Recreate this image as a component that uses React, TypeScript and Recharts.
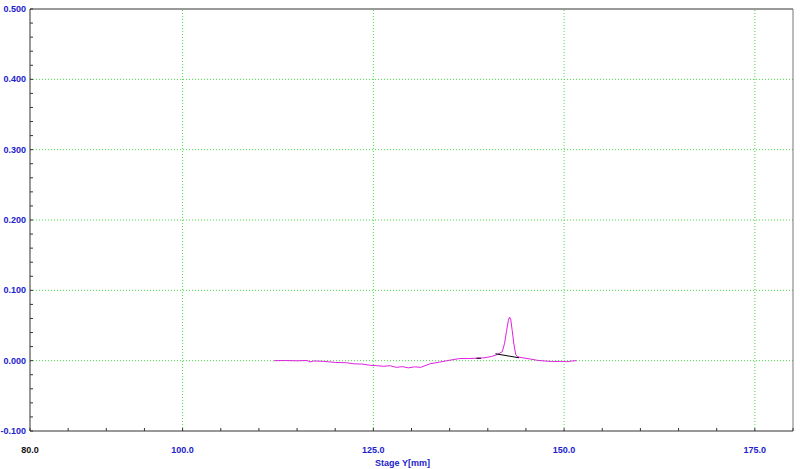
import React from 'react';
import { LineChart, Line, XAxis, YAxis, ReferenceLine } from 'recharts';

// stage position [mm] and signal
const stageY = [
  112.0, 113.5, 115.0, 116.3, 116.7, 117.2, 118.5, 120.0, 121.5, 122.5, 123.5, 124.5,
  125.5, 126.3, 127.2, 128.0, 128.8, 129.6, 130.4, 131.2, 132.4, 133.7, 135.0, 136.3,
  137.5, 138.5, 139.5, 140.5, 141.2, 141.9, 142.2, 142.45, 142.7, 142.85, 143.0, 143.2,
  143.4, 143.65, 143.9, 144.6, 145.5, 146.5, 147.5, 148.5, 149.5, 150.3, 151.0, 151.6,
];
const signal = [
  0.0, 0.0002, -0.0002, 0.0003, -0.0018, -0.0004, -0.001, -0.0025, -0.003, -0.0045, -0.0048, -0.0065,
  -0.0072, -0.008, -0.0072, -0.0095, -0.0085, -0.0102, -0.0088, -0.0095, -0.0045, -0.002, 0.0006, 0.003,
  0.003, 0.0035, 0.004, 0.006, 0.0085, 0.0127, 0.0248, 0.0418, 0.0575, 0.062, 0.059, 0.043,
  0.025, 0.009, 0.0055, 0.004, 0.0025, 0.0005, -0.0005, -0.0012, -0.001, -0.0015, -0.0005, 0.0,
];

// peak baseline (black)
const baseX = [141.0, 144.1];
const baseY = [0.0098, 0.0041];
const markX = [138.5, 139.1];
const markY = [0.0034, 0.0034];

const xTicks = [80, 85, 90, 95, 100, 105, 110, 115, 120, 125, 130, 135, 140, 145, 150, 155, 160, 165, 170, 175, 180];
const xLabels = [80, 100, 125, 150, 175];
const xGrid = [100, 125, 150, 175];
const yTicks = [
  -0.1, -0.08, -0.06, -0.04, -0.02, 0.0, 0.02, 0.04, 0.06, 0.08, 0.1, 0.12, 0.14, 0.16, 0.18, 0.2,
  0.22, 0.24, 0.26, 0.28, 0.3, 0.32, 0.34, 0.36, 0.38, 0.4, 0.42, 0.44, 0.46, 0.48, 0.5,
];
const yLabels = [-0.1, 0.0, 0.1, 0.2, 0.3, 0.4, 0.5];
const yGrid = [0.0, 0.1, 0.2, 0.3, 0.4];

const trace = stageY.map((x, i) => ({ x, y: signal[i] }));
const baseline = baseX.map((x, i) => ({ x, y: baseY[i] }));
const mark = markX.map((x, i) => ({ x, y: markY[i] }));

const BLUE = '#2222cc';
const FONT = '"Liberation Sans", Arial, sans-serif';
const near = (a: number, b: number) => Math.abs(a - b) < 1e-6;

const LeftTick = (props: any) => {
  const { x, y, payload } = props;
  const v = payload.value;
  const major = yLabels.some((l) => near(l, v));
  return (
    <g>
      <line x1={x} x2={x + 3} y1={y} y2={y} stroke="#333" />
      {major && (
        <text x={x - 4} y={y} dy={3} textAnchor="end" fill={BLUE} fontSize={9} fontWeight="bold" fontFamily={FONT}>
          {v.toFixed(3)}
        </text>
      )}
    </g>
  );
};

const RightTick = (props: any) => {
  const { x, y } = props;
  return <line x1={x} x2={x + 3} y1={y} y2={y} stroke="#777" />;
};

const BottomTick = (props: any) => {
  const { x, y, payload } = props;
  const v = payload.value;
  const major = xLabels.some((l) => near(l, v));
  return (
    <g>
      <line x1={x} x2={x} y1={y} y2={y - 3} stroke="#333" />
      {major && (
        <text x={x} y={y + 22} textAnchor="middle" fill={v === 80 ? '#111' : BLUE} fontSize={9} fontWeight="bold" fontFamily={FONT}>
          {v.toFixed(1)}
        </text>
      )}
    </g>
  );
};

const TopTick = (props: any) => {
  const { x, y } = props;
  return <line x1={x} x2={x} y1={y} y2={y + 3} stroke="#777" />;
};

export default function App() {
  return (
    <div style={{ position: 'absolute', left: 0, top: 0, background: '#fff' }}>
      <LineChart width={800} height={469} margin={{ top: 0, right: 0, bottom: 0, left: 0 }}>
        <XAxis
          dataKey="x"
          type="number"
          domain={[80, 180]}
          ticks={xTicks}
          interval={0}
          allowDataOverflow
          height={38}
          tickSize={0}
          tickMargin={0}
          tick={<BottomTick />}
          axisLine={{ stroke: '#333' }}
          label={{ value: 'Stage Y[mm]', position: 'insideBottom', offset: 3, dx: -9, fill: BLUE, fontSize: 9, fontWeight: 'bold', fontFamily: FONT }}
        />
        <XAxis
          xAxisId="top"
          orientation="top"
          dataKey="x"
          type="number"
          domain={[80, 180]}
          ticks={xTicks}
          interval={0}
          height={9}
          tickSize={0}
          tickMargin={0}
          tick={<TopTick />}
          axisLine={{ stroke: '#999', strokeWidth: 2 }}
        />
        <YAxis
          type="number"
          domain={[-0.1, 0.5]}
          ticks={yTicks}
          interval={0}
          allowDataOverflow
          width={30}
          tickSize={0}
          tickMargin={0}
          tick={<LeftTick />}
          axisLine={{ stroke: '#333' }}
        />
        <YAxis
          yAxisId="right"
          orientation="right"
          type="number"
          domain={[-0.1, 0.5]}
          ticks={yTicks}
          interval={0}
          width={7}
          tickSize={0}
          tickMargin={0}
          tick={<RightTick />}
          axisLine={{ stroke: '#777' }}
        />
        {xGrid.map((v) => (
          <ReferenceLine key={'gx' + v} x={v} stroke="#44dd44" strokeDasharray="1 2" />
        ))}
        {yGrid.map((v) => (
          <ReferenceLine key={'gy' + v} y={v} stroke="#44dd44" strokeDasharray="1 2" />
        ))}
        <Line data={trace} dataKey="y" type="linear" stroke="#e020e0" strokeWidth={1} dot={false} isAnimationActive={false} />
        <Line data={baseline} dataKey="y" type="linear" stroke="#000" strokeWidth={1} dot={false} isAnimationActive={false} />
        <Line data={mark} dataKey="y" type="linear" stroke="#000" strokeWidth={1} dot={false} isAnimationActive={false} />
      </LineChart>
    </div>
  );
}
